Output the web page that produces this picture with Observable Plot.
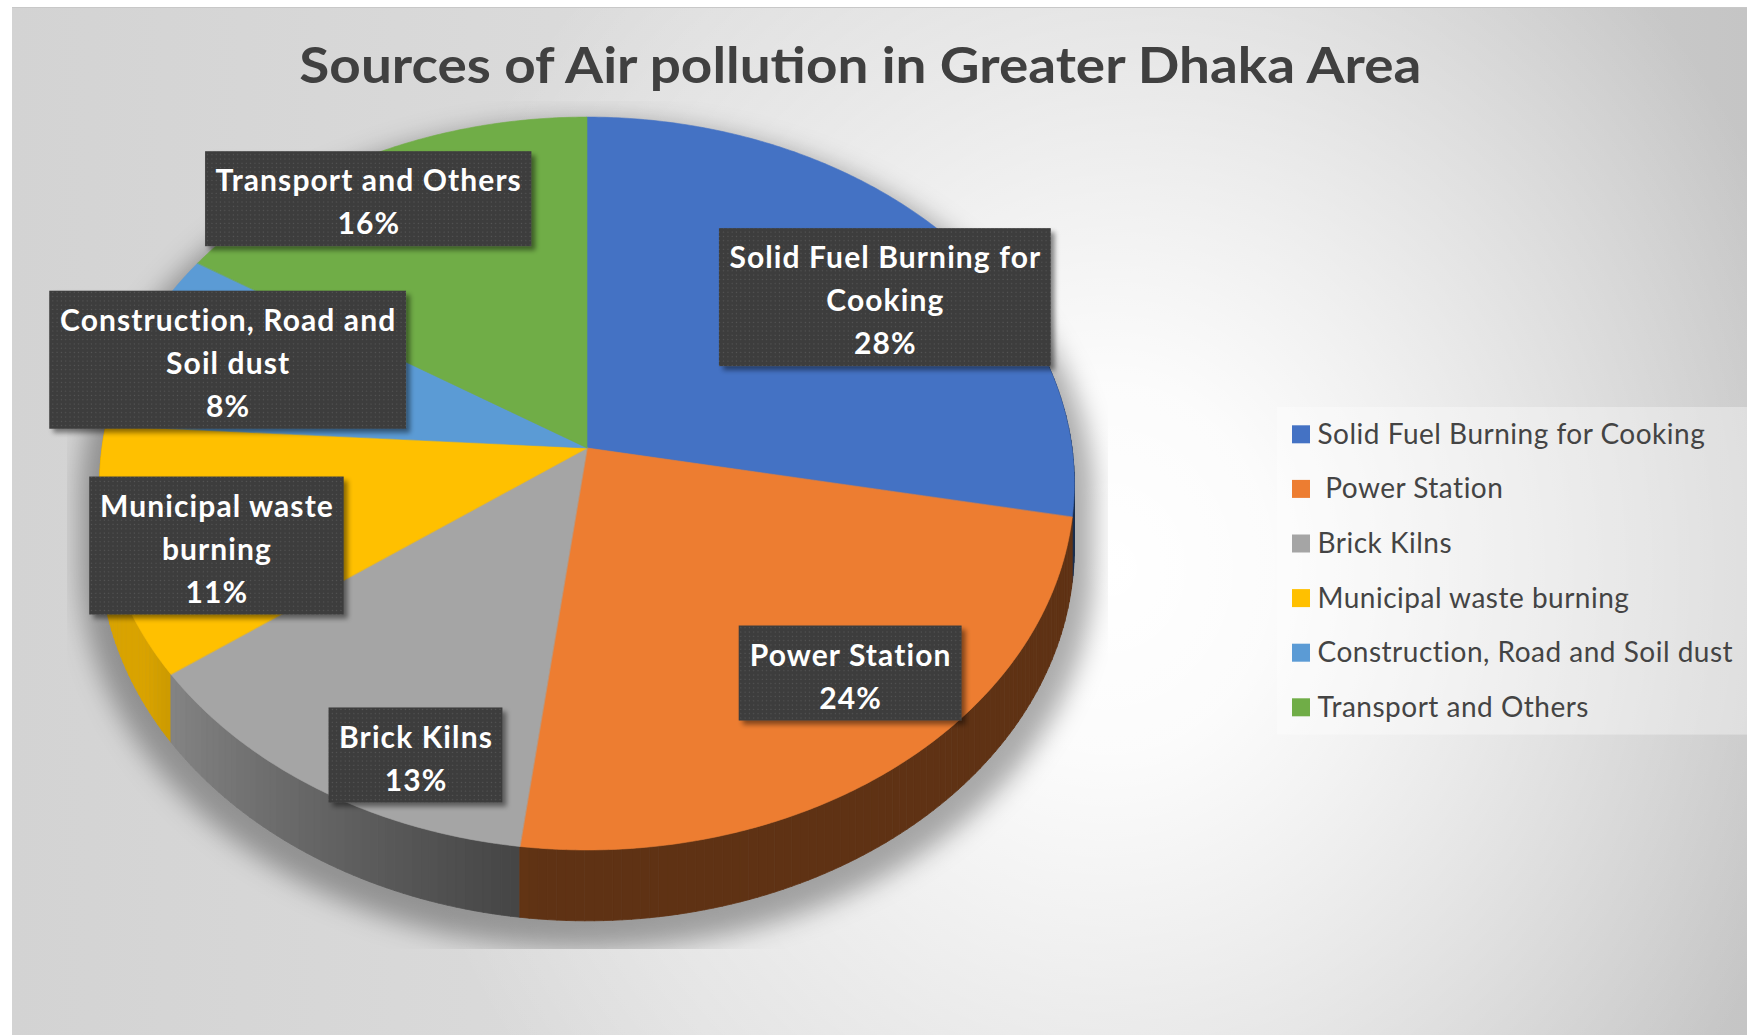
<!DOCTYPE html>
<html>
<head>
<meta charset="utf-8">
<script src="https://cdn.jsdelivr.net/npm/d3@7"></script>
<script src="https://cdn.jsdelivr.net/npm/@observablehq/plot@0.6"></script>
<style>
  html, body { margin: 0; padding: 0; background: #ffffff; }
  #chart {
    position: absolute; left: 12px; top: 7px; width: 1735px; height: 1028px;
    box-sizing: border-box; border-top: 1px solid #c8c8c8; overflow: hidden;
    background:
      radial-gradient(ellipse 740px 830px at 1100px 560px, rgba(255,255,255,1) 0%, rgba(255,255,255,0.92) 22%, rgba(255,255,255,0) 100%),
      linear-gradient(90deg, #d3d3d3 0%, #dcdcdc 40%, #d3d3d3 72%, #c5c5c5 100%);
  }
  #title {
    position: absolute; left: 0; top: 31px; width: 1696px; text-align: center;
    font-family: Lato, "Open Sans", sans-serif; font-weight: 700; font-size: 50px; line-height: 50px;
    color: #404040; white-space: nowrap;
  }
  #title span { display: inline-block; transform-origin: 50% 50%; }
  #plot { position: absolute; left: 0; top: 93px; }
</style>
</head>
<body>
<div id="chart">
  <div id="title"><span>Sources of Air pollution in Greater Dhaka Area</span></div>
  <div id="plot"></div>
</div>
<script>
// ---------------- data ----------------
const categories = [
  "Solid Fuel Burning for Cooking",
  " Power Station",
  "Brick Kilns",
  "Municipal waste burning",
  "Construction, Road and Soil dust",
  "Transport and Others"
];
const shares = [28, 24, 13, 11, 8, 16];
const labelLines = [
  ["Solid Fuel Burning for", "Cooking"],
  ["Power Station"],
  ["Brick Kilns"],
  ["Municipal waste", "burning"],
  ["Construction, Road and", "Soil dust"],
  ["Transport and Others"]
];

// ---------------- styles / layout ----------------
const colors = ["#4472C4", "#ED7D31", "#A5A5A5", "#FFC000", "#5B9BD5", "#70AD47"];
const W = 1735, H = 934;               // svg size
const OX = 12, OY = 101;               // svg origin in page pixels
const pie = {cx: 587 - OX, cy: 448 - OY, A: 485, B: 363, k: 0.0969, depth: 64};
const labelNudge = [[30, 15], [36, -9], [26, 57], [-14, 20], [-21, -6], [-54, -25]];
const LABEL_FS = 30, LABEL_LS = 1.1, LINE_H = 43, PAD_X = 10, PAD_Y = 4.5;
const legend = {x: 1292 - OX, top: 407 - OY, row: 54.6, sq: 18, gap: 7, fs: 28, ls: 0.5};

// perspective projection of a point on the pie (t: clockwise angle from 12 o'clock)
function proj(t, r = 1, drop = 0) {
  const u = r * Math.sin(t), v = r * Math.cos(t);
  const d = 1 + pie.k * v;
  return [pie.cx + pie.A * u / d, pie.cy - pie.B * v / d + drop * pie.depth / d];
}
function shade(deg) {
  if (deg <= 185) return 0.40;
  if (deg <= 240) return 0.40 + 0.45 * (deg - 185) / 55;
  return 0.85;
}
function darken(c, f) {
  const rgb = d3.rgb(c);
  return d3.rgb(rgb.r * f, rgb.g * f, rgb.b * f).formatHex();
}

const total = d3.sum(shares);
let acc = 0;
const slices = shares.map((v, i) => {
  const a0 = acc / total * 2 * Math.PI; acc += v;
  const a1 = acc / total * 2 * Math.PI;
  return {i, a0, a1, mid: (a0 + a1) / 2};
});
const [pcx, pcy] = proj(0, 0);

// top faces
const topRows = slices.flatMap(s => {
  const n = Math.max(2, Math.ceil((s.a1 - s.a0) * 180 / Math.PI * 2));
  return d3.range(n + 1).map(j => {
    const t = s.a0 + (s.a1 - s.a0) * j / n;
    const [x, y] = proj(t);
    return {x1: x, y1: y, x2: pcx, y2: pcy, z: "top" + s.i, fill: colors[s.i]};
  });
});

// side walls (small segments, far ones first)
const segs = [];
slices.forEach(s => {
  const n = Math.max(1, Math.ceil((s.a1 - s.a0) * 180 / Math.PI));
  for (let j = 0; j < n; j++) {
    const t0 = s.a0 + (s.a1 - s.a0) * j / n, t1 = s.a0 + (s.a1 - s.a0) * (j + 1) / n;
    const tm = (t0 + t1) / 2;
    if (Math.cos(tm) > 0.35) continue;
    segs.push({t0, t1, key: Math.cos(tm), fill: darken(colors[s.i], shade(tm * 180 / Math.PI)), id: "side" + s.i + "_" + j});
  }
});
segs.sort((a, b) => b.key - a.key);
const sideRows = segs.flatMap(g => [g.t0, g.t1].map(t => {
  const [xa, ya] = proj(t, 1, 0), [xb, yb] = proj(t, 1, 1);
  return {x1: xa, y1: ya, x2: xb, y2: yb, z: g.id, fill: g.fill};
}));

// soft shadow silhouette
const silPts = d3.range(0, 360, 2).flatMap(d => [proj(d * Math.PI / 180), proj(d * Math.PI / 180, 1, 1)]);
const hull = d3.polygonHull(silPts);
const shadowRows = [...hull, hull[0]].map(([x, y]) => ({
  x1: pcx + (x - pcx) * 1.04, y1: pcy + (y - pcy) * 1.03 + 14, x2: pcx, y2: pcy + 14
}));

// data labels
const ctx = document.createElement("canvas").getContext("2d");
ctx.font = `bold ${LABEL_FS}px Lato`;
const labelRows = slices.map(s => {
  const lines = [...labelLines[s.i], shares[s.i] + "%"];
  const w = d3.max(lines, l => ctx.measureText(l).width + LABEL_LS * l.length) + 2 * PAD_X;
  const h = lines.length * LINE_H + 2 * PAD_Y;
  const [px, py] = proj(s.mid, 0.75);
  const cx = px + labelNudge[s.i][0], cy = py + labelNudge[s.i][1];
  return {text: lines.join("\n"), cx, cy, x1: cx - w / 2, x2: cx + w / 2, y1: cy - h / 2, y2: cy + h / 2};
});

// legend
const legendRows = categories.map((c, i) => {
  const yc = legend.top + (i + 0.5) * legend.row;
  return {name: c, fill: colors[i], yc, x1: legend.x, x2: legend.x + legend.sq, y1: yc - legend.sq / 2, y2: yc + legend.sq / 2, tx: legend.x + legend.sq + legend.gap};
});
const legendBox = [{x1: legend.x - 15, x2: W, y1: legend.top, y2: legend.top + 6 * legend.row}];

const chart = Plot.plot({
  width: W, height: H,
  margin: 0,
  style: "background: transparent; overflow: visible;",
  x: {domain: [0, W], range: [0, W], axis: null},
  y: {domain: [0, H], range: [0, H], axis: null},
  color: {type: "identity"},
  marks: [
    Plot.area(shadowRows, {x1: "x1", y1: "y1", x2: "x2", y2: "y2", fill: "#000", fillOpacity: 0.32, ariaDescription: "pie-shadow"}),
    Plot.area(sideRows, {x1: "x1", y1: "y1", x2: "x2", y2: "y2", z: "z", fill: "fill", stroke: "fill", strokeWidth: 0.8}),
    Plot.area(topRows, {x1: "x1", y1: "y1", x2: "x2", y2: "y2", z: "z", fill: "fill", stroke: "fill", strokeWidth: 0.6}),
    Plot.rect(labelRows, {x1: "x1", x2: "x2", y1: "y1", y2: "y2", fill: "url(#dots)", ariaDescription: "label-boxes"}),
    Plot.text(labelRows, {x: "cx", y: "cy", text: "text", fill: "#ffffff", fontSize: LABEL_FS, fontWeight: "bold", fontFamily: "Lato", lineHeight: LINE_H / LABEL_FS, lineAnchor: "middle", textAnchor: "middle", ariaDescription: "label-text"}),
    Plot.rect(legendBox, {x1: "x1", x2: "x2", y1: "y1", y2: "y2", fill: "#ffffff", fillOpacity: 0.35}),
    Plot.rect(legendRows, {x1: "x1", x2: "x2", y1: "y1", y2: "y2", fill: "fill"}),
    Plot.text(legendRows, {x: "tx", y: "yc", text: "name", fill: "#444444", fontSize: legend.fs, fontFamily: "Lato", textAnchor: "start", lineAnchor: "middle", ariaDescription: "legend-text"})
  ]
});

// defs: dot pattern, blur, drop shadow, clip
const svg = d3.select(chart);
const defs = svg.insert("defs", ":first-child");
const pat = defs.append("pattern").attr("id", "dots").attr("patternUnits", "userSpaceOnUse").attr("width", 4.3).attr("height", 4.3);
pat.append("rect").attr("width", 4.3).attr("height", 4.3).attr("fill", "#3c3c3c");
pat.append("rect").attr("x", 1.5).attr("y", 1.5).attr("width", 1.2).attr("height", 1.2).attr("fill", "#585858");
const blur = defs.append("filter").attr("id", "blur").attr("x", "-20%").attr("y", "-20%").attr("width", "140%").attr("height", "140%");
blur.append("feGaussianBlur").attr("stdDeviation", 13);
const ds = defs.append("filter").attr("id", "drop").attr("x", "-10%").attr("y", "-10%").attr("width", "130%").attr("height", "140%");
ds.append("feDropShadow").attr("dx", 4).attr("dy", 4).attr("stdDeviation", 2.5).attr("flood-color", "#000").attr("flood-opacity", 0.45);
defs.append("clipPath").attr("id", "plotclip").append("rect")
  .attr("x", 67 - OX).attr("y", 0).attr("width", 1108 - 67).attr("height", 949 - OY);
svg.select('g[aria-description="pie-shadow"]').attr("filter", "url(#blur)").attr("clip-path", "url(#plotclip)");
svg.select('g[aria-description="label-boxes"]').attr("filter", "url(#drop)");
svg.select('g[aria-description="label-text"]').style("letter-spacing", LABEL_LS + "px");
svg.select('g[aria-description="legend-text"]').style("letter-spacing", legend.ls + "px");

document.getElementById("plot").appendChild(chart);

// fit title width to the reference (≈1122 px)
const tspan = document.querySelector("#title span");
const tw = tspan.getBoundingClientRect().width;
tspan.style.transform = `scaleX(${1122 / tw})`;
</script>
</body>
</html>
